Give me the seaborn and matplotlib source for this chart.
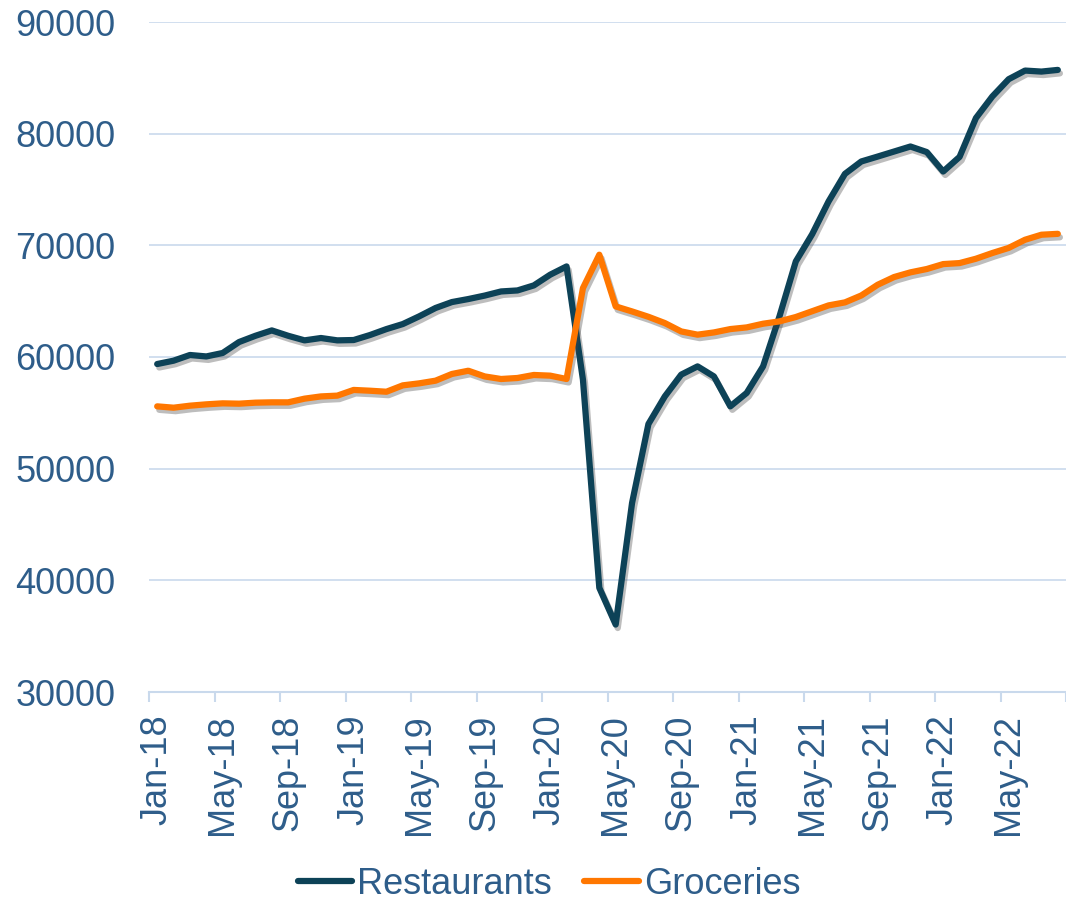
import numpy as np
import pandas as pd
import seaborn as sns
import matplotlib.pyplot as plt
import matplotlib.patheffects as pe
from matplotlib.lines import Line2D

# monthly series, Jan-18 .. Aug-22
restaurants = [59370, 59670, 60180, 60050, 60360, 61340, 61900, 62380, 61900, 61490,
               61700, 61490, 61520, 61970, 62500, 62950, 63640, 64390, 64920, 65190,
               65500, 65870, 65960, 66410, 67370, 68110, 57970, 39330, 36040, 46930,
               54000, 56470, 58420, 59160, 58260, 55580, 56780, 59160, 63630, 68560,
               71000, 73930, 76400, 77510, 77950, 78400, 78850, 78350, 76610, 77920,
               81400, 83330, 84880, 85650, 85560, 85710]
groceries = [55580, 55460, 55640, 55760, 55850, 55820, 55910, 55940, 55940, 56270,
             56470, 56540, 57050, 56980, 56890, 57460, 57640, 57880, 58480, 58770,
             58260, 58030, 58120, 58390, 58330, 58030, 66170, 69160, 64530, 64080,
             63600, 63040, 62290, 62000, 62200, 62500, 62650, 62980, 63190, 63580,
             64100, 64620, 64890, 65510, 66470, 67160, 67580, 67880, 68320, 68410,
             68800, 69310, 69770, 70500, 70950, 71030]
tick_labels = ['Jan-18', 'May-18', 'Sep-18', 'Jan-19', 'May-19', 'Sep-19', 'Jan-20',
               'May-20', 'Sep-20', 'Jan-21', 'May-21', 'Sep-21', 'Jan-22', 'May-22']
series_names = ['Restaurants', 'Groceries']
colors = ['#0D4257', '#FF7700']

n = len(restaurants)
df = pd.DataFrame({
    'month': list(range(n)) * 2,
    'value': restaurants + groceries,
    'series': ['Restaurants'] * n + ['Groceries'] * n,
})

sns.set_theme(style='white')
plt.rcParams['font.family'] = ['Liberation Sans', 'DejaVu Sans']

text_col = '#2E5D8A'
grid_col = '#C9D9EC'
fs = 26

fig = plt.figure(figsize=(10.66, 9.02), dpi=100)
ax = fig.add_axes([149 / 1066, 1 - 692 / 902, 917 / 1066, 670 / 902])

sns.lineplot(data=df, x='month', y='value', hue='series', hue_order=series_names,
             palette=colors, linewidth=4.5, legend=False, ax=ax)

for ln in ax.get_lines():
    ln.set_solid_capstyle('round')
    ln.set_solid_joinstyle('round')
    ln.set_path_effects([pe.SimpleLineShadow(offset=(1.5, -2.5), shadow_color='#444444', alpha=0.35),
                         pe.Normal()])

ax.set_ylim(30000, 90000)
ax.set_yticks(np.arange(30000, 90001, 10000))
ax.set_xlim(-0.5, n - 0.5)
ax.set_xticks(np.arange(0, n, 4))
ax.set_xticklabels(tick_labels, rotation=90)
ax.set_xticks(np.arange(-0.5, n, 4), minor=True)

ax.tick_params(axis='x', which='major', length=0, pad=16, labelsize=fs, labelcolor=text_col)
ax.tick_params(axis='x', which='minor', length=7.5, width=1.5, color=grid_col, bottom=True)
ax.tick_params(axis='y', length=0, pad=24, labelsize=fs, labelcolor=text_col)

ax.yaxis.grid(True, color=grid_col, linewidth=1.2)
ax.xaxis.grid(False)
for s in ['top', 'right', 'left']:
    ax.spines[s].set_visible(False)
ax.spines['bottom'].set_color(grid_col)
ax.spines['bottom'].set_linewidth(1.5)
ax.set_xlabel('')
ax.set_ylabel('')

handles = [Line2D([], [], color=c, lw=4.5, solid_capstyle='round') for c in colors]
fig.legend(handles, series_names, loc='center', bbox_to_anchor=(549 / 1066, 1 - 884 / 902),
           ncol=2, frameon=False, fontsize=fs, labelcolor=text_col,
           handlelength=1.5, handletextpad=0.15, columnspacing=0.9,
           borderpad=0.1)

fig.savefig('out.png', dpi=100)
